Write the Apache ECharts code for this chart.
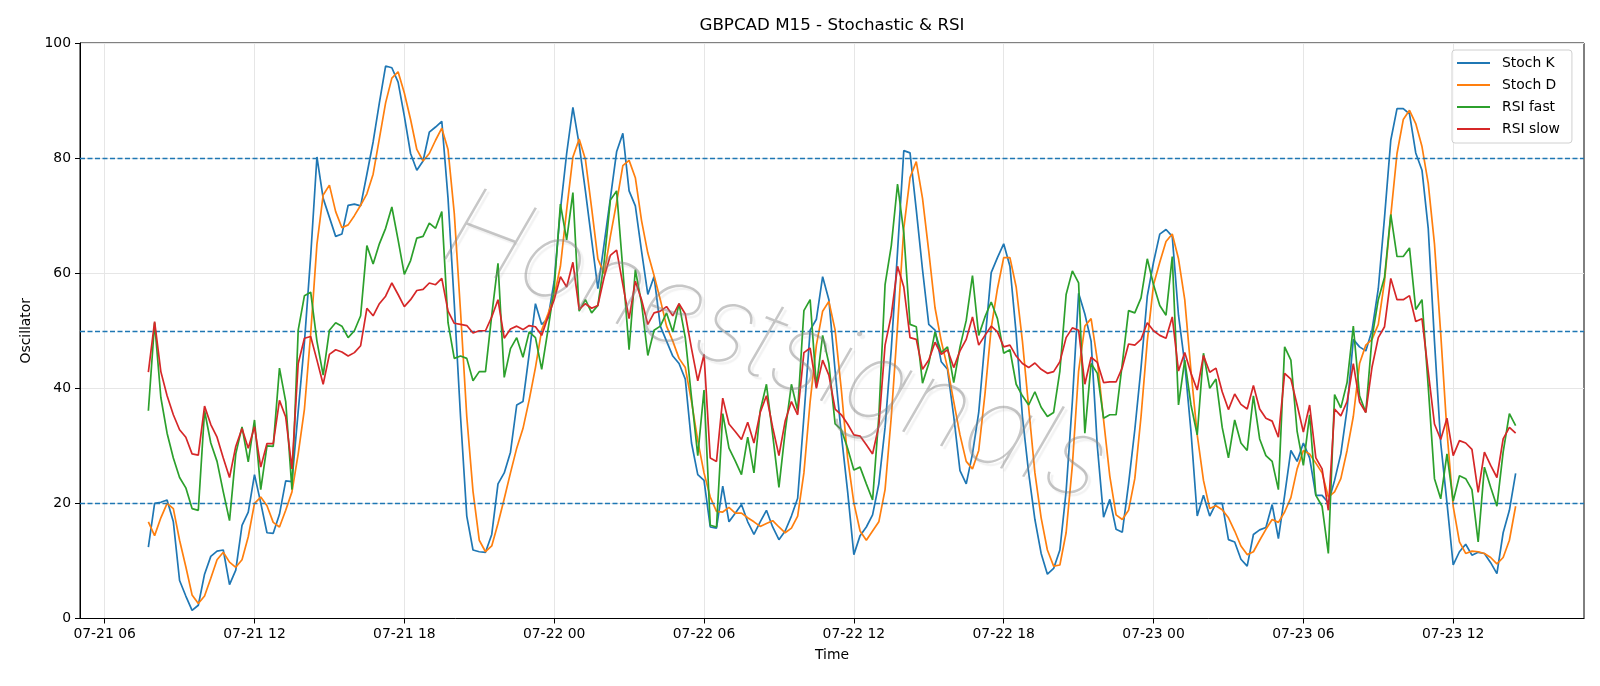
<!DOCTYPE html>
<html><head><meta charset="utf-8">
<script src="https://cdn.jsdelivr.net/npm/echarts@6/dist/echarts.min.js"></script>
<style>html,body{margin:0;padding:0;background:#fff}#chart{width:1600px;height:686px}</style>
</head><body><div id="chart"></div>
<script>
// time axis: hours since 07-21 00:00, M15 bars
const startHour = 7.75;
const stepHour = 0.25;

const stochK = [12.4,20,20.2,20.6,16.8,6.6,3.9,1.4,2.3,7.7,10.8,11.7,11.9,5.9,8.4,16.2,18.5,25,20.1,14.9,14.8,18.1,23.9,23.8,36,48,63,80.2,73,69.7,66.4,
66.8,71.8,72,71.7,77.2,82.8,89.6,96,95.7,93.2,87.3,80.8,77.9,79.5,84.5,85.4,86.4,73,54.7,35.1,17.8,11.9,11.6,11.5,14.6,23.4,25.3,28.9,37.1,37.7,
46,54.7,51.1,52.1,58.6,71,80.8,88.8,82.4,74.3,65.8,57.3,65.1,73,81.1,84.3,74.3,71.7,63.8,56.3,59.4,50.8,48.2,45.6,44.3,41.6,30.5,25,24,15.9,
15.7,23,16.8,18.3,19.8,16.8,14.6,16.8,18.8,15.9,13.7,15.2,17.8,20.9,35.1,50.1,52,59.4,55.4,43,31.9,22.1,11.1,14.4,15.9,18,23.4,33.2,46.9,63.8,
81.3,80.9,71,60.6,51.1,50.1,44.6,43.3,35.1,25.7,23.4,28.6,35.8,48.2,60.1,62.7,65.1,61.2,49.5,35.1,25.3,17.2,11.3,7.7,8.7,11.9,22.1,37.7,56.5,52.9,
48.2,29.9,17.6,20.7,15.5,15,23.4,32.8,43.6,56,61.9,66.8,67.6,66.4,52.7,44.3,32.5,17.8,21.4,17.8,20,20,13.7,13.3,10.3,9.1,14.6,15.4,15.8,19.8,
13.9,21.4,29.2,27.3,30.5,27.9,21.4,21.4,20.1,24,28.6,36.4,48.5,47.2,46.5,50.1,57.3,69.7,83.1,88.6,88.6,87.7,80.9,77.9,67.8,48.2,30.5,20.1,9.3,11.6,
12.9,11,11.5,11.3,9.7,7.8,14.9,18.8,25.2];

const stochD = [16.8,14.4,17.5,20,19.1,13.6,9,4.1,2.6,3.9,7,10.2,11.5,9.8,8.9,10.2,14.2,20,21.1,19.6,16.7,15.9,18.8,22,28.6,36.4,49.5,65,73.6,75.3,70.7,
67.9,68.4,70,71.8,73.8,77.2,83.4,89.6,93.9,95,91.3,86.7,81.5,79.5,80.8,83.1,85.2,81.5,70.4,53.4,35.1,22.1,13.6,11.6,12.6,16.5,20.8,25.3,29.6,33,
38,43.6,50.1,52.9,56,61.2,71,80.2,83.3,79.8,71.3,62.5,59.9,66.4,72.3,78.7,79.6,76.6,69.1,63.5,59.6,55.4,50.8,48.2,45.2,43.6,37.7,30.9,25.3,21.1,
18.6,18.5,19.3,18.3,18.3,17.5,16.8,16,16.5,17,15.9,14.9,15.7,17.8,25.3,37.7,47.5,53.4,55.1,50.1,39.7,27.9,20.1,15.2,13.6,15.2,16.8,22.4,35.1,50.8,
67.8,76.6,79.4,73,63.8,54,48.2,43.6,37.7,31.9,27.3,26,29.2,39,50.5,57.3,62.7,62.7,57.6,48.2,36.7,25.3,17.5,11.9,9.1,9.3,14.9,26.6,43,50.8,
52.1,44.9,34.5,24.7,18,17.2,18.8,24.3,35.1,48.2,58,61.9,65.5,66.8,62.5,55.4,43,31.9,24,19.1,19.6,18.9,17.5,15.2,12.6,11.1,11.6,13.6,15.5,17.2,
16.7,18.5,21,26,29.2,28.6,27,25.3,21.1,22,24.3,29.2,35.1,44.3,47.5,48.5,51.1,58.6,70,80.8,86.7,88.3,86,82,75.6,65.1,49.5,32.5,19.5,13.3,
11.3,11.7,11.6,11.3,10.6,9.5,10.6,13.6,19.5];

const rsiFast = [36.1,51.4,38.4,32.2,27.9,24.5,22.7,19.1,18.8,36.1,30.5,27.3,22,17,28.6,33.3,27.2,34.5,22.4,30,29.9,43.5,37.7,22.4,50.1,56.1,56.7,48.2,42.3,50.1,51.4,
50.8,48.8,50,52.6,64.8,61.6,65.1,67.8,71.5,65.8,59.8,62.2,66.1,66.4,68.7,67.8,70.7,51.4,45.2,45.6,45.2,41.3,42.9,42.9,52.7,61.7,41.9,46.9,48.8,45.4,
49.8,48.8,43.3,50.1,57.3,72,65.8,74,53.4,55.4,53.1,54.4,61.9,72.7,74.3,60.6,46.7,60.6,54.7,45.7,50.1,50.8,53.1,49.8,54.7,48.8,38.4,28.3,39.7,16.2,
15.9,35.6,29.6,27.4,25,31.5,25.3,36.1,40.7,31.9,22.8,32.5,40.7,36.1,53.5,55.4,40.3,49.2,44.3,33.8,32.8,29.6,25.8,26.3,23.4,20.6,35.1,58,64.8,75.5,
67,51.1,50.7,40.9,44.3,49.8,46.2,47.2,41,47.2,51.8,59.6,49.2,52.4,55,52.1,46.1,46.7,40.7,38.7,37.1,39.4,36.7,35.1,35.8,43,56.3,60.4,58.3,32.2,
44.3,42.6,34.8,35.4,35.4,44.3,53.5,53.1,55.7,62.5,58,54.4,52.7,62.9,37.1,44.9,37.1,31.9,46.1,40,41.6,33.2,27.9,34.5,30.5,29.2,38.7,31.2,28.3,27.3,
22.4,47.2,44.9,32.5,26.6,35.4,21.4,19.5,11.3,38.9,36.6,41,50.8,38.7,35.8,48.8,55.4,59.3,70.2,62.9,62.9,64.4,53.7,55.4,40.3,24.3,20.8,28.6,20.4,24.8,
24.3,22.4,13.3,26.3,22.8,19.5,28.9,35.6,33.5];

const rsiSlow = [42.8,51.6,42.9,38.7,35.4,32.8,31.5,28.6,28.4,36.9,33.7,31.5,27.9,24.5,29.9,33,29.6,33.3,26.3,30.4,30.4,37.9,35,26,44.3,48.7,49,44.9,40.7,45.9,46.7,
46.3,45.6,46.2,47.4,53.9,52.6,54.7,56,58.3,56.3,54.2,55.4,57,57.2,58.3,58,59.1,53.4,51.3,51.1,50.9,49.6,50,50,52.4,55.4,48.7,50.3,50.8,50.2,
50.9,50.7,49.2,52.4,55.4,59.4,57.6,61.9,53.7,54.7,53.9,54.4,59.3,63.1,64,58,52.1,58.6,55.4,51.1,53.1,53.4,54.2,52.6,54.7,52.9,46.9,41.3,45.9,27.9,
27.3,38.3,33.8,32.5,31.1,34.1,30.5,35.8,38.7,33.2,28.3,34.3,37.7,35.4,46.2,47,40,44.9,42.3,36.4,35.4,33.8,31.9,31.7,30.2,28.6,33.5,47.5,52.7,61.2,
57.6,48.8,48.5,43.3,44.9,48,45.9,46.7,43.6,46.5,48.5,52.4,47.5,49.2,50.8,49.8,47.2,47.5,45.6,44.3,43.6,44.4,43.3,42.6,42.9,44.6,48.8,50.5,50.1,40.7,
45.4,44.5,41,41.1,41.1,43.6,47.7,47.5,48.5,51.4,50,49.2,48.7,52.4,43,46.2,42.6,39.7,45.7,42.8,43.5,39.4,36.3,39,37.2,36.4,40.5,36.4,34.8,34.3,
31.5,42.6,41.6,37.1,32.4,37.1,27.9,26,18.8,36.4,35.2,37.7,44.3,37.6,35.8,43.7,48.8,50.7,59.1,55.4,55.4,56.1,51.6,52.1,42.9,33.8,31.1,34.8,28.3,30.9,
30.5,29.4,21.9,28.9,26.6,24.5,31.2,33.2,32.2];

const tickHours = [6,12,18,24,30,36,42,48,54,60];
const tickLabels = ['07-21 06','07-21 12','07-21 18','07-22 00','07-22 06','07-22 12','07-22 18','07-23 00','07-23 06','07-23 12'];
const refLevels = [20,50,80];
const seriesNames = ['Stoch K','Stoch D','RSI fast','RSI slow'];
const seriesColors = ['#1f77b4','#ff7f0e','#2ca02c','#d62728'];
const titleText = 'GBPCAD M15 - Stochastic & RSI';
const watermarkText = 'Honestsignals';

const FONT = 'DejaVu Sans';
const FS = 13.9;
const toXY = arr => arr.map((v, i) => [startHour + stepHour * i, v]);
const nPts = stochK.length;
const xFirst = startHour, xLast = startHour + stepHour * (nPts - 1);
const xPad = (xLast - xFirst) * 0.05;

const allSeries = [stochK, stochD, rsiFast, rsiSlow];
const series = allSeries.map((arr, k) => ({
  name: seriesNames[k], type: 'line', data: toXY(arr),
  showSymbol: false, symbol: 'none', z: 3 + k,
  lineStyle: { color: seriesColors[k], width: 1.7 },
  itemStyle: { color: seriesColors[k] }
}));
series.push({
  name: 'ref', type: 'line', data: [], z: 10, silent: true,
  markLine: {
    silent: true, symbol: 'none', animation: false,
    label: { show: false },
    lineStyle: { color: '#1f77b4', width: 1.3, type: [5, 2.5] },
    data: refLevels.map(v => ({ yAxis: v }))
  }
});

const chart = echarts.init(document.getElementById('chart'), null, { renderer: 'canvas' });
chart.setOption({
  animation: false,
  backgroundColor: '#fff',
  textStyle: { fontFamily: FONT },
  grid: { left: 80, right: 16, top: 43, bottom: 67.5, show: true, borderColor: '#000', borderWidth: 1, backgroundColor: 'transparent' },
  legend: {
    data: seriesNames, orient: 'vertical', left: 1452, top: 50,
    icon: 'rect', itemWidth: 33, itemHeight: 2, itemGap: 8,
    padding: [6, 12, 7, 5],
    borderColor: '#d0d0d0', borderWidth: 1, borderRadius: 3,
    backgroundColor: 'rgba(255,255,255,0.8)',
    textStyle: { fontFamily: FONT, fontSize: FS, color: '#000', padding: [0, 0, 0, 7] }
  },
  xAxis: {
    type: 'value', min: xFirst - xPad, max: xLast + xPad,
    name: 'Time', nameLocation: 'middle', nameGap: 30,
    nameTextStyle: { fontFamily: FONT, fontSize: FS, color: '#000' },
    axisLine: { show: true, onZero: false, lineStyle: { color: '#000', width: 1 } },
    axisTick: { show: true, length: 5, lineStyle: { color: '#000' }, customValues: tickHours },
    axisLabel: { color: '#000', fontFamily: FONT, fontSize: FS, margin: 9, customValues: tickHours,
      formatter: v => { const j = tickHours.indexOf(v); return j >= 0 ? tickLabels[j] : ''; } },
    splitLine: { show: true, lineStyle: { color: '#e6e6e6', width: 1 } }
  },
  yAxis: {
    type: 'value', min: 0, max: 100, interval: 20,
    name: 'Oscillator', nameLocation: 'middle', nameGap: 47,
    nameTextStyle: { fontFamily: FONT, fontSize: FS, color: '#000' },
    axisLine: { show: true, lineStyle: { color: '#000', width: 1 } },
    axisTick: { show: true, length: 5, lineStyle: { color: '#000' } },
    axisLabel: { color: '#000', fontFamily: FONT, fontSize: FS, margin: 9 },
    splitLine: { show: true, lineStyle: { color: '#e6e6e6', width: 1 } }
  },
  graphic: [
    { type: 'text', x: 832, y: 25.5, z: 100,
      style: { text: titleText, fontFamily: FONT, fontSize: 16.7, fill: '#000', align: 'center', verticalAlign: 'middle' } },
    { type: 'text', x: 775, y: 348, rotation: -0.36, z: 50, silent: true,
      style: { text: watermarkText, fontFamily: 'Inter', fontStyle: 'italic', fontWeight: 100, fontSize: 110,
        fill: 'rgba(130,130,130,0.45)', align: 'center', verticalAlign: 'middle',
        textShadowColor: 'rgba(160,160,160,0.3)', textShadowOffsetX: 3, textShadowOffsetY: 3, textShadowBlur: 1 } }
  ],
  series: series
});
</script></body></html>
